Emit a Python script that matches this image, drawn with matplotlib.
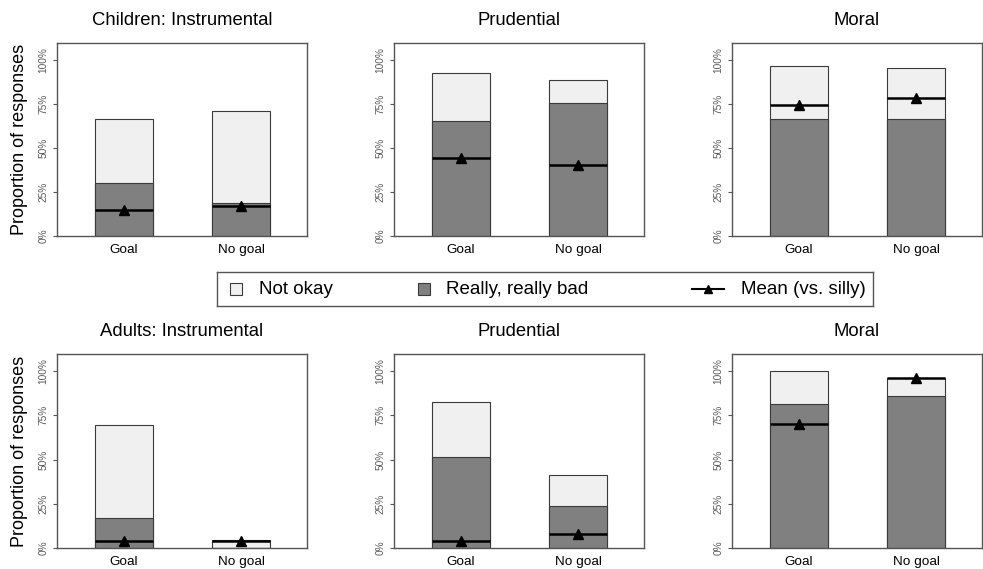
"""Grouped stacked bars: proportion of responses per norm type, children vs adults."""

import matplotlib

matplotlib.use("Agg")
import matplotlib.pyplot as plt

plt.rcParams["font.family"] = ["Liberation Sans", "DejaVu Sans"]

conditions = ["Goal", "No goal"]
panel_titles = ["Children: Instrumental", "Prudential", "Moral",
                "Adults: Instrumental", "Prudential", "Moral"]
# one pair (Goal, No goal) per panel
not_okay = [[0.665, 0.710], [0.928, 0.885], [0.968, 0.953],
            [0.697, 0.044], [0.826, 0.413], [1.000, 0.964]]
really_bad = [[0.301, 0.188], [0.652, 0.754], [0.663, 0.663],
              [0.167, 0.000], [0.517, 0.239], [0.815, 0.858]]
mean_silly = [[0.148, 0.170], [0.445, 0.403], [0.742, 0.784],
              [0.040, 0.040], [0.040, 0.078], [0.701, 0.964]]
y_ticks = [0, 0.25, 0.5, 0.75, 1.0]
y_tick_labels = ["0%", "25%", "50%", "75%", "100%"]
legend_labels = ["Not okay", "Really, really bad", "Mean (vs. silly)"]

LIGHT = "#f0f0f0"
DARK = "#808080"
EDGE = "#3a3a3a"
FRAME = "#555555"

fig = plt.figure(figsize=(9.83, 5.69), dpi=100)
W, H = 983, 569
lefts = [57, 394, 732]
rows = [(43, 236), (354, 548)]
bar_x = [0, 1]
bar_w = 0.5

for i, title in enumerate(panel_titles):
    r, c = divmod(i, 3)
    top, bottom = rows[r]
    ax = fig.add_axes([lefts[c] / W, 1 - bottom / H, 250 / W, (bottom - top) / H])
    ax.bar(bar_x, not_okay[i], width=bar_w, color=LIGHT, edgecolor=EDGE, linewidth=0.8)
    ax.bar(bar_x, really_bad[i], width=bar_w, color=DARK, edgecolor=EDGE, linewidth=0.8)
    for x, m in zip(bar_x, mean_silly[i]):
        ax.hlines(m, x - bar_w / 2, x + bar_w / 2, color="black", linewidth=1.8, zorder=3)
    ax.plot(bar_x, mean_silly[i], linestyle="none", marker="^", markersize=7,
            color="black", zorder=4)

    ax.set_xlim(-0.573, 1.564)
    ax.set_ylim(0, 1.097)
    ax.set_xticks(bar_x)
    ax.set_xticklabels(conditions, fontsize=9.7)
    ax.tick_params(axis="x", length=0, pad=6)
    ax.set_yticks(y_ticks)
    ax.set_yticklabels(y_tick_labels, fontsize=7.3, color="#5a5a5a", rotation=90, va="center")
    ax.tick_params(axis="y", length=3, width=0.8, color=FRAME, pad=3)
    for spine in ax.spines.values():
        spine.set_color(FRAME)
        spine.set_linewidth(1.0)
    ax.set_title(title, fontsize=13.3, pad=13)
    if c == 0:
        ax.set_ylabel("Proportion of responses", fontsize=13, labelpad=8)

# legend strip between the rows, laid out in pixel units like the original
lax = fig.add_axes([217 / W, 1 - 306 / H, 656 / W, 34 / H])
lax.set_xlim(0, 656)
lax.set_ylim(0, 1)
lax.set_xticks([])
lax.set_yticks([])
for spine in lax.spines.values():
    spine.set_color(FRAME)
    spine.set_linewidth(1.0)
lax.plot(19, 0.5, marker="s", markersize=8, markerfacecolor=LIGHT,
         markeredgecolor=EDGE, markeredgewidth=0.8)
lax.plot(207, 0.5, marker="s", markersize=8, markerfacecolor=DARK,
         markeredgecolor=EDGE, markeredgewidth=0.8)
lax.plot([475, 507], [0.5, 0.5], color="black", linewidth=1.5)
lax.plot(491, 0.5, marker="^", markersize=6, color="black")
for x_text, label in zip([42, 229, 524], legend_labels):
    lax.text(x_text, 0.5, label, fontsize=13.5, va="center", ha="left")

fig.savefig("out.png", dpi=100)
